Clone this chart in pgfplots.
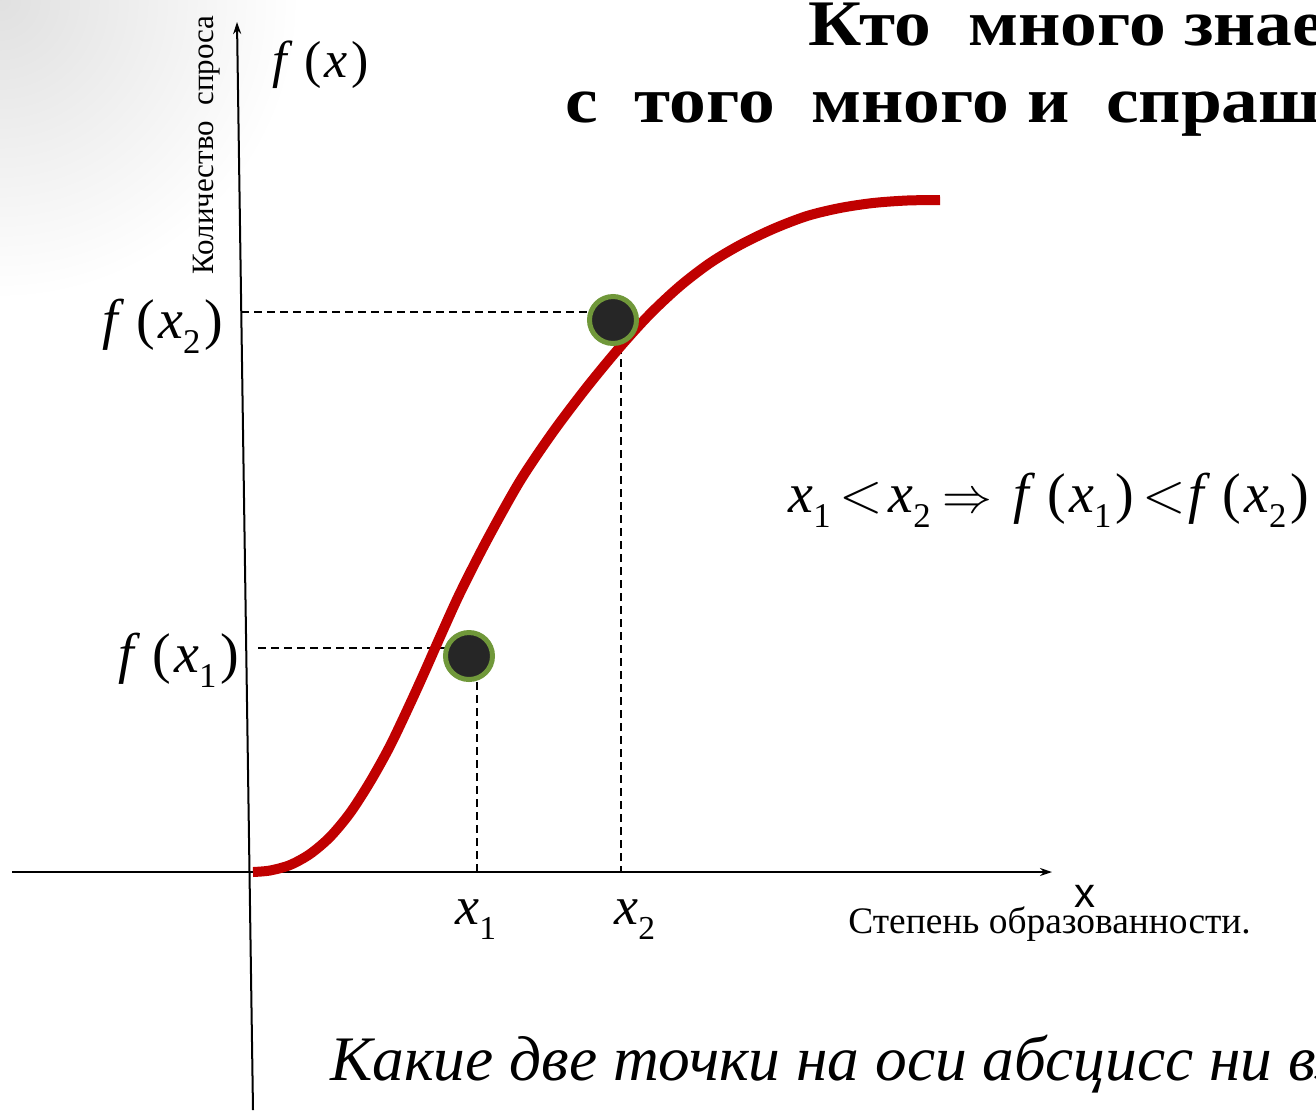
\documentclass[border=0pt]{standalone}
\usepackage{pgfplots}
\pgfplotsset{compat=1.18}
\usepackage{graphicx}
\usepackage{fontspec}
\setmainfont{Liberation Serif}
\newfontfamily\arialfont{Liberation Sans}
\usetikzlibrary{arrows.meta,backgrounds}
\definecolor{curvered}{RGB}{192,0,0}
\definecolor{dotgreen}{RGB}{112,152,58}
\definecolor{dotfill}{RGB}{38,38,38}
\newcommand\sub[1]{\raisebox{-0.28em}{\scalebox{0.62}{#1}}}
\newcommand\fof[1]{\textit{f}\kern0.22em(\kern0.05em#1\kern0.08em)}
\begin{document}
\begin{tikzpicture}
\begin{axis}[width=658pt, height=555pt, scale only axis,
  xmin=0, xmax=1316, ymin=0, ymax=1110, y dir=reverse,
  axis lines=none, clip=false]
\coordinate (bl) at (axis cs:0,1110);
\coordinate (tr) at (axis cs:1316,0);
\coordinate (tl) at (axis cs:0,0);
% axes
\addplot[black, line width=1pt, -{Stealth[length=6pt,width=4pt]}] coordinates {(12,872) (1052,872)};
\addplot[black, line width=1pt, -{Stealth[length=6pt,width=4pt]}] coordinates {(253,1110) (237,22)};
% dashed guides
\addplot[black, line width=1pt, dash pattern=on 4pt off 2.5pt] coordinates {(241,312) (588,312)};
\addplot[black, line width=1pt, dash pattern=on 4pt off 2.5pt] coordinates {(258,648) (445,648)};
\addplot[black, line width=1pt, dash pattern=on 4pt off 2.5pt] coordinates {(477,682) (477,872)};
\addplot[black, line width=1pt, dash pattern=on 4pt off 2.5pt] coordinates {(621,346) (621,872)};
% curve
\addplot[curvered, line width=5pt, smooth] coordinates {
(253,872) (270,870.5) (290,865) (310,854) (330,837) (350,813) (370,782) (390,746)
(410,704) (425,671) (440,637) (460,593) (487,540) (520,481) (553,432) (587,387)
(620,347) (650,314) (680,286) (710,263) (740,245) (773,229) (807,216) (840,208)
(873,203) (907,200.5) (940,200)};
% points
\addplot[only marks, mark=*, mark size=11.75pt,
  mark options={fill=dotfill, draw=dotgreen, line width=2.5pt}]
  coordinates {(469,656) (613,320)};
% title
\node[anchor=base west, inner sep=0pt, xscale=1.13, font=\fontsize{32.5pt}{36pt}\selectfont\bfseries] at (axis cs:808,45) {Кто\ \ много знает,};
\node[anchor=base west, inner sep=0pt, xscale=1.13, font=\fontsize{32.5pt}{36pt}\selectfont\bfseries] at (axis cs:565,122) {с\ \ того\ \ много и\ \ спрашивают.};
% math labels
\node[anchor=base west, inner sep=0pt, font=\fontsize{26pt}{30pt}\selectfont] at (axis cs:272,77) {\fof{\textit{x}}};
\node[anchor=base west, inner sep=0pt, font=\fontsize{28pt}{32pt}\selectfont] at (axis cs:102,338) {\fof{\textit{x}\sub{2}}};
\node[anchor=base west, inner sep=0pt, font=\fontsize{28pt}{32pt}\selectfont] at (axis cs:118,672) {\fof{\textit{x}\sub{1}}};
\node[anchor=base west, inner sep=0pt, font=\fontsize{27pt}{32pt}\selectfont] at (axis cs:455,924) {\textit{x}\sub{1}};
\node[anchor=base west, inner sep=0pt, font=\fontsize{27pt}{32pt}\selectfont] at (axis cs:614,924) {\textit{x}\sub{2}};
% formula pieces
\node[anchor=base west, inner sep=0pt, font=\fontsize{28pt}{32pt}\selectfont] at (axis cs:788,512) {\textit{x}\sub{1}};
\node[anchor=base west, inner sep=0pt, font=\fontsize{28pt}{32pt}\selectfont] at (axis cs:839,512) {\scalebox{1.15}{$<$}};
\node[anchor=base west, inner sep=0pt, font=\fontsize{28pt}{32pt}\selectfont] at (axis cs:888,512) {\textit{x}\sub{2}};
\node[anchor=base west, inner sep=0pt, font=\fontsize{28pt}{32pt}\selectfont] at (axis cs:942,512) {$\Rightarrow$};
\node[anchor=base west, inner sep=0pt, font=\fontsize{28pt}{32pt}\selectfont] at (axis cs:1013,512) {\fof{\textit{x}\sub{1}}};
\node[anchor=base west, inner sep=0pt, font=\fontsize{28pt}{32pt}\selectfont] at (axis cs:1142,512) {\scalebox{1.15}{$<$}};
\node[anchor=base west, inner sep=0pt, font=\fontsize{28pt}{32pt}\selectfont] at (axis cs:1188,512) {\fof{\textit{x}\sub{2}}};
% axis texts
\node[anchor=base, inner sep=0pt, font=\fontsize{21pt}{24pt}\selectfont\arialfont] at (axis cs:1085,907) {x};
\node[anchor=base west, inner sep=0pt, font=\fontsize{18.7pt}{22pt}\selectfont] at (axis cs:848,933) {Степень образованности.};
\node[anchor=base west, inner sep=0pt, rotate=90, font=\fontsize{15.5pt}{18pt}\selectfont] at (axis cs:213,275) {Количество\ \ спроса};
\node[anchor=base west, inner sep=0pt, font=\fontsize{31.7pt}{36pt}\selectfont\itshape] at (axis cs:330,1080) {Какие две точки на оси абсцисс ни взять,};
\end{axis}
\begin{scope}[on background layer]
\shade[inner color=black!12, outer color=white] (tl) circle[radius=150pt];
\end{scope}
\pgfresetboundingbox
\path[use as bounding box] (bl) rectangle (tr);
\end{tikzpicture}
\end{document}
